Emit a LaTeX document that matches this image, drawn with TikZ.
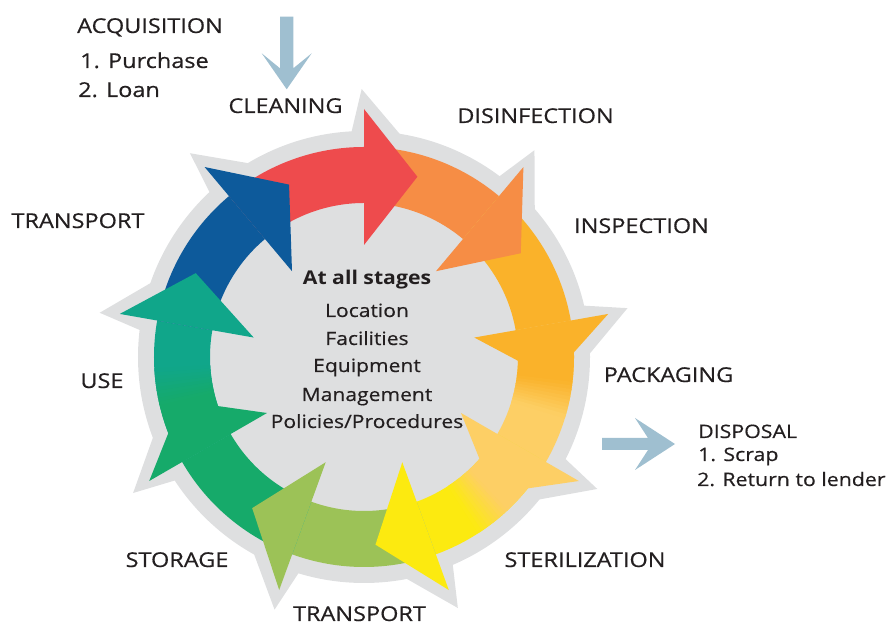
\documentclass[tikz,border=0pt]{standalone}
\usepackage{fontspec}
\setmainfont{Open Sans}[FakeStretch=1.15,FakeBold=0.5]
\newfontfamily\boldfont{Open Sans}[FakeStretch=1.12]
\definecolor{cred}{HTML}{EE4B4D}
\definecolor{corange}{HTML}{F68D45}
\definecolor{camber}{HTML}{FAB22A}
\definecolor{clorange}{HTML}{FDCF65}
\definecolor{cyellow}{HTML}{FCEA10}
\definecolor{cygreen}{HTML}{9CC257}
\definecolor{cgreen}{HTML}{16AA6A}
\definecolor{cteal}{HTML}{10A68A}
\definecolor{cblue}{HTML}{0D5A9B}
\definecolor{cgrey}{HTML}{DEDFE0}
\definecolor{clblue}{HTML}{9FBFD0}
\definecolor{ctext}{HTML}{231F20}
\tikzset{
  lbl/.style={text=ctext, inner sep=0pt, font=\fontsize{20.5}{24}\selectfont},
  sub/.style={text=ctext, inner sep=0pt, font=\fontsize{20.5}{24}\selectfont, anchor=base west},
  small/.style={text=ctext, inner sep=0pt, font=\fontsize{18.6}{22}\selectfont, anchor=base west},
  ctr/.style={text=ctext, inner sep=0pt, font=\fontsize{18.4}{22}\selectfont, anchor=base},
}
\begin{document}
\begin{tikzpicture}[x=1bp,y=1bp]
\useasboundingbox (0,0) rectangle (886,629);
\coordinate (C) at (364,272);
\begin{scope}[shift={(C)}]
  % grey backdrop
  \fill[cgrey] (0,0) circle[radius=226bp];
  \foreach \b in {90,50,10,-30,-70,-110,-150,170,130}
    \fill[cgrey] (\b+0.5:268bp) -- (\b-16.5:205bp) -- (\b+4:215bp) -- cycle;
  % bodies
  \foreach \b/\c in {90/cred,50/corange,10/camber,-30/clorange,-70/cyellow,-110/cygreen,-150/cgreen,170/cteal,130/cblue}
    \fill[\c] (\b+40:210bp) arc[start angle=\b+40, end angle=\b, radius=210bp]
      -- (\b:154bp) arc[start angle=\b, end angle=\b+40, radius=154bp] -- cycle;
  % colour blends at some tails
  \foreach \b/\c/\p in {-30/clorange/camber,-70/cyellow/clorange,170/cteal/cgreen} {
    \fill[\p] (\b+40:210bp) arc[start angle=\b+40, end angle=\b+23, radius=210bp]
      -- (\b+23:154bp) arc[start angle=\b+23, end angle=\b+40, radius=154bp] -- cycle;
    \foreach \i in {0,...,9} {
      \pgfmathsetmacro\sa{\b+23.2-\i}
      \pgfmathsetmacro\ea{\b+22-\i}
      \pgfmathtruncatemacro\pc{95-10*\i}
      \fill[\p!\pc!\c] (\sa:210bp) arc[start angle=\sa, end angle=\ea, radius=210bp]
        -- (\ea:154bp) arc[start angle=\ea, end angle=\sa, radius=154bp] -- cycle;
    }
  }
  % heads
  \foreach \b/\c in {90/cred,50/corange,10/camber,-30/clorange,-70/cyellow,-110/cygreen,-150/cgreen,170/cteal,130/cblue}
    \fill[\c] (\b:112bp) -- (\b:248bp) -- (\b-16.5:188bp) -- cycle;
\end{scope}
% light blue arrows
\fill[clblue] (280,612.3) -- (293.3,612.3) -- (293.3,560.7) -- (311.7,575.7) -- (286.7,539.7) -- (261.7,575.7) -- (280,560.7) -- cycle;
\fill[clblue] (602,191) -- (648,191) -- (635,211) -- (675,185) -- (635,159) -- (648,179) -- (602,179) -- cycle;
% labels
\node[sub] (acq) at (77,596) {ACQUISITION};
\node[sub] (acq1) at (80,561) {1. Purchase};
\node[sub] (acq2) at (78,532) {2. Loan};
\node[lbl, anchor=base] (clean) at (285.5,516) {CLEANING};
\node[lbl, anchor=base] (dis) at (535.5,506) {DISINFECTION};
\node[lbl, anchor=base] (insp) at (641.5,396) {INSPECTION};
\node[lbl, anchor=base] (pack) at (668.5,247) {PACKAGING};
\node[small] (disp) at (698,191) {DISPOSAL};
\node[small] (disp1) at (698,168) {1. Scrap};
\node[small] (disp2) at (697,143) {2. Return to lender};
\node[lbl, anchor=base] (ster) at (585,62) {STERILIZATION};
\node[lbl, anchor=base] (tr2) at (359.5,8) {TRANSPORT};
\node[lbl, anchor=base] (stor) at (177,62) {STORAGE};
\node[lbl, anchor=base] (use) at (102,241) {USE};
\node[lbl, anchor=base] (tr1) at (78,401) {TRANSPORT};
% centre text
\node[ctr, font=\fontsize{19}{22}\boldfont\bfseries] (all) at (367,344) {At all stages};
\node[ctr] (loc) at (367,312) {Location};
\node[ctr] (fac) at (367,284) {Facilities};
\node[ctr] (equ) at (367,257) {Equipment};
\node[ctr] (man) at (367,228) {Management};
\node[ctr] (pol) at (367,201) {Policies/Procedures};
\end{tikzpicture}
\end{document}
